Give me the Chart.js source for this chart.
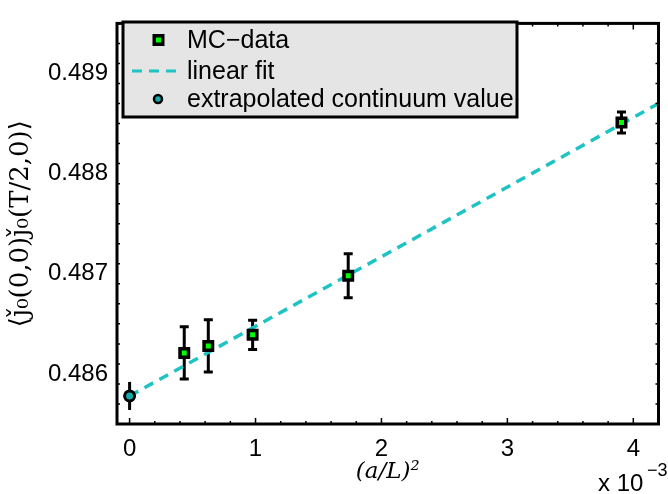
<!DOCTYPE html>
<html>
<head>
<meta charset="utf-8">
<script src="https://cdn.jsdelivr.net/npm/chart.js@4"></script>
<style>
  html, body { margin: 0; padding: 0; background: #fff; }
</style>
</head>
<body>
<canvas id="myChart" width="668" height="494"></canvas>
<script>
// (a/L)^2 in units of 1e-3, L/a = 48, 40, 32, 24, 16
const mcX = [0.434, 0.625, 0.977, 1.736, 3.906];
const mcY = [0.48621, 0.48628, 0.48639, 0.48698, 0.48851];
const mcErr = [0.00026, 0.00026, 0.000145, 0.00022, 0.000105];

const fitX = [0, 4.2];
const fitY = [0.48578, 0.48870];

const extrapX = [0];
const extrapY = [0.48578];
const extrapErr = [0.00014];

const xTicks = [0, 1, 2, 3, 4];
const yTicks = [0.486, 0.487, 0.488, 0.489];

const tickFont = { family: 'Liberation Sans', size: 24 };

function pts(xs, ys) {
    return xs.map((x, i) => ({ x: x, y: ys[i] }));
}

// error bars, drawn under the markers
const errorBars = {
    id: 'errorBars',
    beforeDatasetsDraw(chart) {
        const ctx = chart.ctx;
        const xs = chart.scales.x, ys = chart.scales.y;
        const bars = [[mcX, mcY, mcErr], [extrapX, extrapY, extrapErr]];
        ctx.save();
        ctx.strokeStyle = '#000';
        ctx.lineWidth = 3;
        bars.forEach(([bx, by, be]) => {
            bx.forEach((x, i) => {
                const px = xs.getPixelForValue(x);
                const top = ys.getPixelForValue(by[i] + be[i]);
                const bot = ys.getPixelForValue(by[i] - be[i]);
                ctx.beginPath();
                ctx.moveTo(px, top); ctx.lineTo(px, bot);
                if (bx !== extrapX) {
                    ctx.moveTo(px - 4.5, top); ctx.lineTo(px + 4.5, top);
                    ctx.moveTo(px - 4.5, bot); ctx.lineTo(px + 4.5, bot);
                }
                ctx.stroke();
            });
        });
        ctx.restore();
    }
};

// matlab style box with inward ticks, legend and exponent label
const frame = {
    id: 'frame',
    afterDraw(chart) {
        const ctx = chart.ctx;
        const a = chart.chartArea;
        const xs = chart.scales.x, ys = chart.scales.y;
        ctx.save();
        ctx.strokeStyle = '#000';
        ctx.lineWidth = 1.5;
        ctx.beginPath();
        for (let k = 0; k <= 21; k++) {
            const v = k * 0.2;
            const px = xs.getPixelForValue(v);
            const len = k % 5 === 0 ? 6 : 3;
            ctx.moveTo(px, a.bottom); ctx.lineTo(px, a.bottom - len);
            ctx.moveTo(px, a.top); ctx.lineTo(px, a.top + len);
        }
        for (let k = 0; k <= 20; k++) {
            const v = 0.4855 + k * 0.0002;
            const py = ys.getPixelForValue(v);
            if (py < a.top || py > a.bottom) continue;
            const major = yTicks.some(t => Math.abs(t - v) < 1e-7);
            const len = major ? 6 : 3;
            ctx.moveTo(a.left, py); ctx.lineTo(a.left + len, py);
            ctx.moveTo(a.right, py); ctx.lineTo(a.right - len, py);
        }
        ctx.stroke();
        ctx.lineWidth = 3;
        ctx.strokeRect(a.left, a.top, a.right - a.left, a.bottom - a.top);

        // legend
        const sets = chart.data.datasets;
        const lx = 123, ly = 22, lw = 394, lh = 95;
        ctx.fillStyle = '#e5e5e5';
        ctx.fillRect(lx, ly, lw, lh);
        ctx.lineWidth = 3;
        ctx.strokeRect(lx, ly, lw, lh);
        ctx.font = '25px "Liberation Sans"';
        ctx.textBaseline = 'middle';
        const rows = [40, 71, 99];
        rows.forEach((ry, i) => {
            ctx.fillStyle = '#000';
            ctx.fillText(sets[i].label, 187, ry + 1);
        });
        // MC marker
        ctx.fillStyle = '#000';
        ctx.fillRect(152.5, rows[0] - 6, 12, 12);
        ctx.fillStyle = sets[0].backgroundColor;
        ctx.fillRect(156, rows[0] - 2.5, 5, 5);
        // dashed line
        ctx.strokeStyle = sets[1].borderColor;
        ctx.lineWidth = 3;
        ctx.setLineDash([10, 7]);
        ctx.beginPath();
        ctx.moveTo(132, rows[1]); ctx.lineTo(182, rows[1]);
        ctx.stroke();
        ctx.setLineDash([]);
        // circle marker
        ctx.beginPath();
        ctx.arc(158, rows[2], 4, 0, Math.PI * 2);
        ctx.fillStyle = sets[2].backgroundColor;
        ctx.fill();
        ctx.strokeStyle = '#000';
        ctx.lineWidth = 2.5;
        ctx.stroke();

        // x 10^-3
        ctx.fillStyle = '#000';
        ctx.textBaseline = 'alphabetic';
        ctx.font = '24px "Liberation Sans"';
        ctx.fillText('x 10', 598, 491);
        ctx.font = '18px "Liberation Sans"';
        ctx.fillText('\u22123', 647, 476);
        ctx.restore();
    }
};

const ctx = document.getElementById('myChart').getContext('2d');
const myChart = new Chart(ctx, {
    type: 'scatter',
    data: {
        datasets: [
            {
                label: 'MC\u2212data',
                data: pts(mcX, mcY),
                pointStyle: 'rect',
                pointRadius: 6,
                borderWidth: 3.5,
                borderColor: '#000',
                backgroundColor: '#00ff00',
                showLine: false,
            },
            {
                label: 'linear fit',
                type: 'line',
                data: pts(fitX, fitY),
                borderColor: '#1fc3c3',
                borderWidth: 3.5,
                borderDash: [10, 7],
                pointRadius: 0,
                fill: false,
            },
            {
                label: 'extrapolated continuum value',
                data: pts(extrapX, extrapY),
                pointStyle: 'circle',
                pointRadius: 5,
                borderWidth: 3,
                borderColor: '#000',
                backgroundColor: '#17a9a9',
                order: -1,
            }
        ]
    },
    options: {
        responsive: false,
        animation: false,
        events: [],
        layout: { padding: { top: 14, right: 4, left: 0, bottom: 0 } },
        scales: {
            x: {
                type: 'linear',
                min: -0.1,
                max: 4.2,
                afterFit(scale) { scale.height = 70; },
                afterBuildTicks(scale) { scale.ticks = xTicks.map(v => ({ value: v })); },
                grid: { display: false, drawTicks: false },
                border: { display: false },
                ticks: {
                    color: '#000',
                    font: tickFont,
                    padding: 11,
                    maxRotation: 0,
                    callback: v => String(v)
                },
                title: {
                    display: true,
                    text: '(a/L)\u00b2',
                    color: '#000',
                    font: { family: 'DejaVu Serif', size: 23, style: 'italic' },
                    padding: { top: 0, bottom: 8 }
                }
            },
            y: {
                type: 'linear',
                min: 0.4855,
                max: 0.4895,
                afterFit(scale) { scale.width = 117; },
                afterBuildTicks(scale) { scale.ticks = yTicks.map(v => ({ value: v })); },
                grid: { display: false, drawTicks: false },
                border: { display: false },
                ticks: {
                    color: '#000',
                    font: tickFont,
                    padding: 9,
                    callback: v => v.toFixed(3)
                },
                title: {
                    display: true,
                    text: '\u27e8\u01f0\u2080(0,0)\u01f0\u2080(T/2,0)\u27e9',
                    color: '#000',
                    font: { family: 'DejaVu Serif', size: 26 },
                    padding: { top: 6, bottom: 0 }
                }
            }
        },
        plugins: {
            legend: { display: false },
            tooltip: { enabled: false }
        }
    },
    plugins: [errorBars, frame]
});
</script>
</body>
</html>
